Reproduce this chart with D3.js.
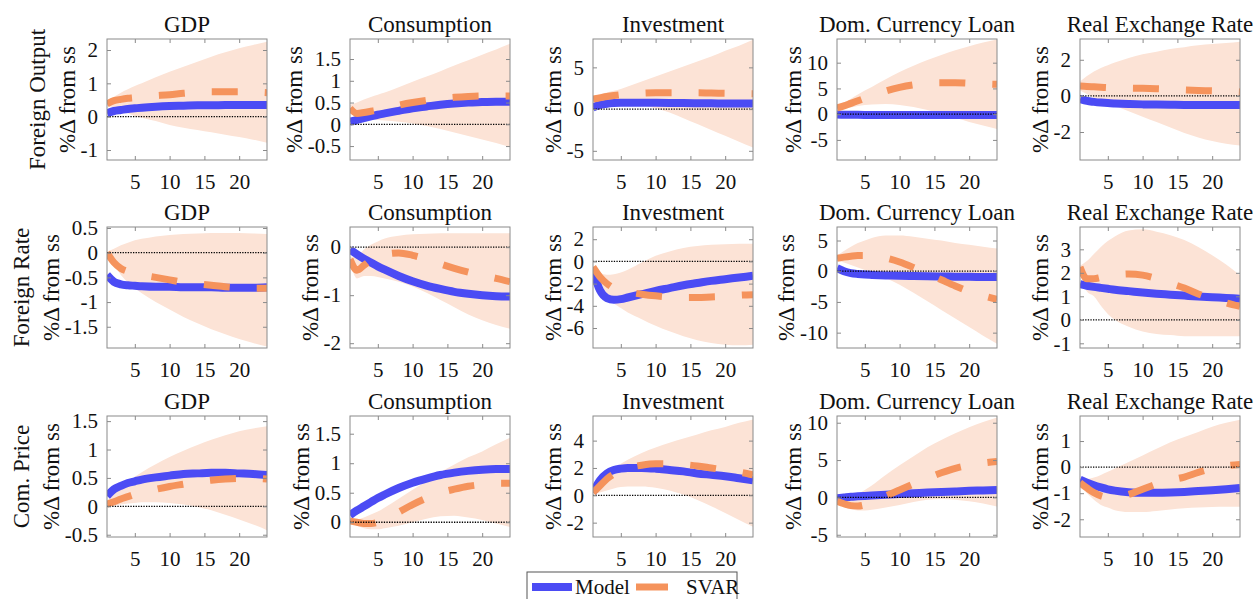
<!DOCTYPE html>
<html><head><meta charset="utf-8">
<script src="https://cdn.jsdelivr.net/npm/d3@7"></script>
<style>
body{margin:0;background:#fff}
svg{display:block}
text{font-family:'Liberation Serif','Times New Roman',serif;fill:#111}
</style>
</head><body>
<svg id="c" width="1258" height="599"></svg>
<script>
// ---------- DATA ----------
const periods = [1,2,3,4,5,6,8,10,12,14,16,18,20,22,24];
const titles = ["GDP","Consumption","Investment","Dom. Currency Loan","Real Exchange Rate"];
const rowLabels = ["Foreign Output","Foreign Rate","Com. Price"];
const xTicks = [5,10,15,20];
const seriesNames = ["Model","SVAR"];

// Foreign Output shock (columns: GDP, Consumption, Investment, Loan, RER)
const modelFO = [
  [0.1,0.17,0.2,0.23,0.25,0.27,0.3,0.32,0.33,0.34,0.34,0.35,0.35,0.35,0.35],
  [0.06,0.1,0.14,0.18,0.22,0.25,0.31,0.37,0.41,0.45,0.48,0.5,0.51,0.52,0.52],
  [0.2,0.5,0.65,0.72,0.75,0.76,0.76,0.75,0.74,0.72,0.7,0.69,0.68,0.67,0.66],
  [-0.05,-0.1,-0.12,-0.13,-0.14,-0.15,-0.15,-0.15,-0.15,-0.15,-0.15,-0.15,-0.15,-0.15,-0.15],
  [-0.18,-0.28,-0.33,-0.37,-0.4,-0.42,-0.45,-0.47,-0.48,-0.49,-0.5,-0.5,-0.5,-0.5,-0.5]
];
const svarFO = [
  [0.38,0.48,0.52,0.55,0.57,0.6,0.63,0.66,0.7,0.73,0.75,0.75,0.75,0.74,0.72],
  [0.37,0.25,0.27,0.3,0.33,0.37,0.44,0.5,0.55,0.59,0.62,0.64,0.65,0.65,0.65],
  [1.2,1.35,1.5,1.62,1.72,1.8,1.9,1.95,1.95,1.95,1.95,1.92,1.9,1.87,1.85],
  [1.2,1.6,2.1,2.6,3.1,3.6,4.5,5.2,5.7,6.0,6.1,6.1,6.0,5.9,5.8],
  [0.55,0.52,0.5,0.48,0.46,0.45,0.43,0.42,0.4,0.37,0.33,0.3,0.28,0.25,0.22]
];
const loFO = [
  [0.33,0.28,0.2,0.1,0.02,-0.03,-0.13,-0.25,-0.33,-0.4,-0.47,-0.54,-0.61,-0.69,-0.78],
  [0.3,0.2,0.15,0.12,0.1,0.09,0.06,0.02,-0.04,-0.11,-0.19,-0.27,-0.35,-0.43,-0.52],
  [0.9,1.0,1.05,1.05,1.0,0.85,0.5,0.1,-0.4,-1.1,-1.8,-2.5,-3.2,-3.9,-4.6],
  [0.7,1.0,1.3,1.6,1.8,1.9,2.0,1.8,1.4,0.8,0.1,-0.7,-1.5,-2.2,-2.9],
  [0.3,0.1,-0.1,-0.25,-0.4,-0.55,-0.85,-1.15,-1.45,-1.75,-2.05,-2.3,-2.5,-2.65,-2.75]
];
const hiFO = [
  [0.45,0.6,0.72,0.82,0.92,1.0,1.18,1.35,1.5,1.65,1.8,1.93,2.05,2.15,2.25],
  [0.45,0.5,0.57,0.63,0.68,0.73,0.85,0.98,1.1,1.22,1.35,1.47,1.6,1.72,1.85],
  [1.5,1.8,2.0,2.2,2.4,2.7,3.3,3.9,4.5,5.1,5.7,6.3,7.0,7.6,8.3],
  [1.8,2.3,3.0,3.8,4.6,5.3,6.8,8.2,9.4,10.5,11.5,12.4,13.2,13.9,14.5],
  [0.8,1.1,1.35,1.55,1.7,1.85,2.1,2.3,2.45,2.6,2.7,2.8,2.87,2.93,3.0]
];

// Foreign Rate shock
const modelFR = [
  [-0.45,-0.59,-0.64,-0.66,-0.67,-0.68,-0.69,-0.69,-0.7,-0.7,-0.7,-0.71,-0.71,-0.71,-0.7],
  [-0.05,-0.15,-0.24,-0.32,-0.4,-0.47,-0.6,-0.71,-0.8,-0.87,-0.93,-0.97,-1.0,-1.02,-1.03],
  [-0.8,-2.6,-3.3,-3.45,-3.4,-3.25,-2.95,-2.65,-2.4,-2.15,-1.95,-1.75,-1.6,-1.45,-1.3],
  [0.5,0.0,-0.3,-0.45,-0.55,-0.6,-0.68,-0.73,-0.78,-0.82,-0.86,-0.89,-0.92,-0.94,-0.95],
  [1.52,1.45,1.4,1.36,1.32,1.28,1.22,1.16,1.11,1.07,1.03,0.99,0.96,0.93,0.9]
];
const svarFR = [
  [0,-0.2,-0.32,-0.38,-0.42,-0.45,-0.5,-0.55,-0.6,-0.63,-0.66,-0.69,-0.71,-0.72,-0.72],
  [-0.25,-0.48,-0.38,-0.27,-0.2,-0.15,-0.12,-0.17,-0.25,-0.35,-0.44,-0.52,-0.59,-0.65,-0.72],
  [-0.5,-1.4,-2.0,-2.4,-2.6,-2.75,-2.95,-3.1,-3.2,-3.25,-3.25,-3.2,-3.15,-3.05,-3.0],
  [2.1,2.3,2.45,2.55,2.55,2.5,2.15,1.5,0.6,-0.4,-1.4,-2.4,-3.3,-4.0,-4.6],
  [2.25,1.75,1.75,1.8,1.85,1.9,1.95,1.9,1.75,1.55,1.35,1.1,0.9,0.72,0.57]
];
const loFR = [
  [-0.05,-0.25,-0.45,-0.6,-0.72,-0.82,-1.0,-1.15,-1.3,-1.43,-1.55,-1.65,-1.75,-1.83,-1.9],
  [-0.3,-0.65,-0.6,-0.6,-0.62,-0.65,-0.72,-0.82,-0.95,-1.1,-1.25,-1.4,-1.52,-1.62,-1.7],
  [-0.9,-2.3,-3.2,-3.8,-4.2,-4.6,-5.2,-5.8,-6.3,-6.75,-7.1,-7.35,-7.5,-7.55,-7.5],
  [1.7,1.4,1.0,0.6,0.2,-0.2,-1.1,-2.2,-3.5,-4.9,-6.3,-7.7,-9.1,-10.5,-11.8],
  [2.0,1.2,1.0,0.6,0.25,0.0,-0.3,-0.5,-0.6,-0.65,-0.7,-0.7,-0.7,-0.7,-0.7]
];
const hiFR = [
  [0.02,0.08,0.15,0.2,0.25,0.28,0.33,0.36,0.38,0.39,0.4,0.4,0.4,0.39,0.38],
  [-0.2,-0.2,-0.05,0.05,0.12,0.18,0.24,0.27,0.28,0.29,0.29,0.29,0.29,0.29,0.29],
  [-0.4,-1.0,-1.2,-1.15,-1.0,-0.75,-0.1,0.5,0.9,1.2,1.38,1.5,1.55,1.6,1.6],
  [2.6,3.3,4.0,4.6,5.0,5.4,5.8,5.8,5.6,5.3,5.0,4.6,4.3,4.0,3.7],
  [2.3,2.5,2.8,3.1,3.35,3.55,3.8,3.85,3.75,3.6,3.4,3.1,2.75,2.35,1.9]
];

// Commodity Price shock
const modelCP = [
  [0.18,0.3,0.36,0.41,0.44,0.47,0.51,0.54,0.57,0.58,0.59,0.59,0.58,0.57,0.55],
  [0.12,0.2,0.27,0.34,0.41,0.47,0.58,0.67,0.74,0.8,0.84,0.87,0.89,0.9,0.9],
  [0.2,1.1,1.6,1.85,1.95,2.0,2.0,1.95,1.85,1.75,1.6,1.5,1.4,1.25,1.1],
  [-0.1,0.0,0.1,0.15,0.2,0.25,0.35,0.45,0.55,0.65,0.72,0.8,0.88,0.94,1.0],
  [-0.48,-0.6,-0.7,-0.78,-0.85,-0.9,-0.96,-0.98,-0.98,-0.97,-0.95,-0.92,-0.89,-0.85,-0.8]
];
const svarCP = [
  [0.04,0.08,0.13,0.17,0.21,0.24,0.3,0.35,0.39,0.43,0.46,0.48,0.49,0.49,0.48],
  [0.02,0.0,-0.02,-0.02,0.0,0.05,0.17,0.3,0.41,0.5,0.56,0.61,0.64,0.66,0.66],
  [0.2,0.7,1.2,1.55,1.8,2.0,2.2,2.3,2.3,2.25,2.15,2.0,1.85,1.7,1.5],
  [-0.5,-0.85,-1.1,-1.15,-1.0,-0.7,0.2,1.0,1.8,2.6,3.3,3.9,4.3,4.6,4.8],
  [-0.6,-0.8,-0.98,-1.1,-1.15,-1.15,-1.05,-0.85,-0.65,-0.5,-0.38,-0.2,-0.05,0.05,0.1]
];
const loCP = [
  [0.0,0.01,0.03,0.05,0.06,0.07,0.07,0.06,0.03,-0.01,-0.07,-0.15,-0.23,-0.32,-0.42],
  [-0.01,-0.06,-0.1,-0.12,-0.12,-0.1,-0.06,0.0,0.06,0.1,0.11,0.08,0.04,-0.02,-0.08],
  [0.1,0.2,0.35,0.5,0.6,0.65,0.65,0.55,0.35,0.05,-0.35,-0.8,-1.3,-1.8,-2.3],
  [-0.7,-1.3,-1.6,-1.75,-1.75,-1.65,-1.35,-1.0,-0.6,-0.3,-0.2,-0.3,-0.5,-0.8,-1.2],
  [-0.75,-1.0,-1.25,-1.45,-1.55,-1.65,-1.72,-1.72,-1.68,-1.63,-1.58,-1.55,-1.53,-1.52,-1.52]
];
const hiCP = [
  [0.1,0.22,0.33,0.43,0.52,0.6,0.74,0.87,0.98,1.08,1.17,1.25,1.32,1.37,1.41],
  [0.05,0.05,0.08,0.13,0.18,0.25,0.4,0.55,0.7,0.85,0.98,1.1,1.2,1.32,1.43],
  [0.3,0.9,1.4,1.9,2.3,2.6,3.1,3.5,3.85,4.15,4.45,4.75,5.0,5.3,5.55],
  [-0.3,-0.1,0.2,0.5,1.0,1.6,3.0,4.3,5.5,6.7,7.7,8.6,9.4,10.1,10.7],
  [-0.45,-0.45,-0.4,-0.3,-0.18,-0.05,0.2,0.45,0.7,0.95,1.15,1.35,1.55,1.7,1.82]
];

// y-axis limits and tick labels per row / column
const yLimits = [
  [[-1.3,2.33],[-0.82,1.96],[-6.1,8.4],[-8.9,14.6],[-3.55,3.15]],
  [[-1.93,0.52],[-2.1,0.42],[-7.8,3.1],[-12.5,7.2],[-1.2,3.95]],
  [[-0.54,1.59],[-0.25,1.8],[-3.05,5.8],[-5.3,10.9],[-2.68,1.96]]
];
const yTicks = [
  [[-1,0,1,2],[-0.5,0,0.5,1,1.5],[-5,0,5],[-5,0,5,10],[-2,0,2]],
  [[-1.5,-1,-0.5,0,0.5],[-2,-1,0],[-6,-4,-2,0,2],[-10,-5,0,5],[-1,0,1,2,3]],
  [[-0.5,0,0.5,1,1.5],[0,0.5,1,1.5],[-2,0,2,4],[-5,0,5,10],[-2,-1,0,1]]
];

const modelRows = [modelFO, modelFR, modelCP];
const svarRows = [svarFO, svarFR, svarCP];
const loRows = [loFO, loFR, loCP];
const hiRows = [hiFO, hiFR, hiCP];

// ---------- LAYOUT / STYLE ----------
const colLeft = [107, 350, 593, 837, 1080];
const rowTop = [39, 227, 416];
const W = 160, H = 121;
const FONT = "'Liberation Serif','Times New Roman',serif";
const blue = "#4b4bf4", orange = "#f5935c", band = "#fce3d6", frame = "#8a8a8a";

const svg = d3.select("#c");
const defs = svg.append("defs");
const fmt = d => String(d);

rowLabels.forEach((rowLabel, ri) => {
  titles.forEach((title, ci) => {
    const x0 = colLeft[ci], y0 = rowTop[ri];
    const x = d3.scaleLinear().domain([1, 24]).range([x0, x0 + W]);
    const y = d3.scaleLinear().domain(yLimits[ri][ci]).range([y0 + H, y0]);
    const g = svg.append("g");
    const cid = `clip${ri}${ci}`;
    defs.append("clipPath").attr("id", cid).append("rect")
      .attr("x", x0).attr("y", y0).attr("width", W).attr("height", H);
    const plot = g.append("g").attr("clip-path", `url(#${cid})`);

    const pts = periods.map((t, i) => ({
      t, m: modelRows[ri][ci][i], s: svarRows[ri][ci][i],
      lo: loRows[ri][ci][i], hi: hiRows[ri][ci][i]
    }));
    plot.append("path").datum(pts)
      .attr("d", d3.area().x(d => x(d.t)).y0(d => y(d.lo)).y1(d => y(d.hi)).curve(d3.curveMonotoneX))
      .attr("fill", band);
    plot.append("path").datum(pts)
      .attr("d", d3.line().x(d => x(d.t)).y(d => y(d.m)).curve(d3.curveMonotoneX))
      .attr("fill", "none").attr("stroke", blue).attr("stroke-width", 8);
    plot.append("path").datum(pts)
      .attr("d", d3.line().x(d => x(d.t)).y(d => y(d.s)).curve(d3.curveMonotoneX))
      .attr("fill", "none").attr("stroke", orange).attr("stroke-width", 7)
      .attr("stroke-dasharray", "26,27");
    plot.append("line")
      .attr("x1", x0).attr("x2", x0 + W).attr("y1", y(0)).attr("y2", y(0))
      .attr("stroke", "#000").attr("stroke-width", 1.3).attr("stroke-dasharray", "1.3,1.3");

    // axes (inward ticks on all sides)
    const styleAxis = sel => {
      sel.select(".domain").remove();
      sel.attr("font-family", FONT).attr("font-size", 21);
      sel.selectAll(".tick line").attr("stroke", frame);
      sel.selectAll(".tick text").attr("fill", "#111");
    };
    g.append("g").attr("transform", `translate(0,${y0 + H})`)
      .call(d3.axisBottom(x).tickValues(xTicks).tickFormat(fmt).tickSize(-4).tickPadding(14))
      .call(styleAxis);
    g.append("g").attr("transform", `translate(0,${y0})`)
      .call(d3.axisTop(x).tickValues(xTicks).tickFormat("").tickSize(-4))
      .call(styleAxis);
    const yAx = g.append("g").attr("transform", `translate(${x0},0)`)
      .call(d3.axisLeft(y).tickValues(yTicks[ri][ci]).tickFormat(fmt).tickSize(-4).tickPadding(9))
      .call(styleAxis);
    g.append("g").attr("transform", `translate(${x0 + W},0)`)
      .call(d3.axisRight(y).tickValues(yTicks[ri][ci]).tickFormat("").tickSize(-4))
      .call(styleAxis);
    g.append("rect").attr("x", x0).attr("y", y0).attr("width", W).attr("height", H)
      .attr("fill", "none").attr("stroke", frame).attr("stroke-width", 1);

    // title
    g.append("text").attr("x", x0 + W / 2).attr("y", y0 - 7)
      .attr("text-anchor", "middle").attr("font-size", 23).text(title);

    // y label
    let minX = Infinity;
    yAx.selectAll(".tick text").each(function () {
      const b = this.getBBox();
      const m = this.getCTM();
      minX = Math.min(minX, b.x + m.e);
    });
    const bx = minX - 6, cy = y0 + H / 2;
    g.append("text").attr("transform", `translate(${bx},${cy}) rotate(-90)`)
      .attr("text-anchor", "middle").attr("font-size", 23).text("%\u0394 from ss");
    if (ci === 0) {
      g.append("text").attr("transform", `translate(${bx - 30},${cy}) rotate(-90)`)
        .attr("text-anchor", "middle").attr("font-size", 23).text(rowLabel);
    }
  });
});

// legend
const lg = svg.append("g");
lg.append("rect").attr("x", 527).attr("y", 572).attr("width", 210).attr("height", 34)
  .attr("fill", "#fff").attr("stroke", "#555").attr("stroke-width", 1);
lg.append("line").attr("x1", 532).attr("x2", 572).attr("y1", 587).attr("y2", 587)
  .attr("stroke", blue).attr("stroke-width", 8);
lg.append("text").attr("x", 575).attr("y", 594).attr("font-size", 21).text(seriesNames[0]);
lg.append("line").attr("x1", 636).attr("x2", 668).attr("y1", 587).attr("y2", 587)
  .attr("stroke", orange).attr("stroke-width", 7);
lg.append("text").attr("x", 686).attr("y", 594).attr("font-size", 21).text(seriesNames[1]);
</script>
</body></html>
